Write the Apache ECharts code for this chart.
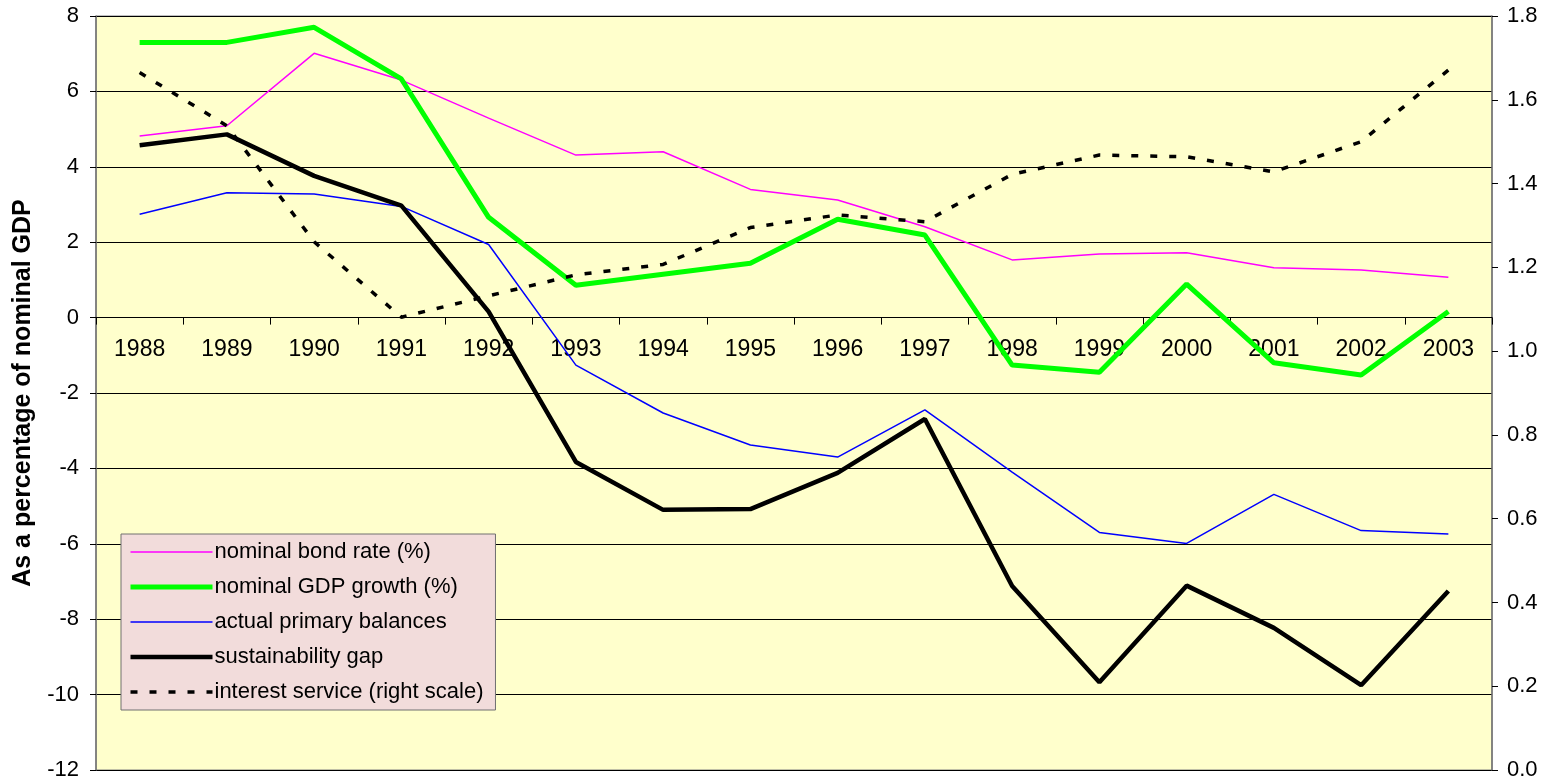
<!DOCTYPE html>
<html>
<head>
<meta charset="utf-8">
<script src="https://cdn.jsdelivr.net/npm/echarts@6/dist/echarts.min.js"></script>
<style>
  html, body { margin: 0; padding: 0; background: #fff; }
  #chart { width: 1549px; height: 784px; }
</style>
</head>
<body>
<div id="chart"></div>
<script>
const years = ['1988', '1989', '1990', '1991', '1992', '1993', '1994', '1995',
  '1996', '1997', '1998', '1999', '2000', '2001', '2002', '2003']

// left scale, % of nominal GDP
const bondRate = [4.82, 5.09, 7.01, 6.30, 5.29, 4.31, 4.40, 3.40, 3.12, 2.41, 1.53, 1.69, 1.72, 1.32, 1.26, 1.07]
const gdpGrowth = [7.30, 7.30, 7.70, 6.33, 2.66, 0.86, 1.15, 1.44, 2.61, 2.19, -1.26, -1.45, 0.89, -1.20, -1.52, 0.16]
const primaryBalance = [2.74, 3.31, 3.28, 2.95, 1.94, -1.26, -2.53, -3.38, -3.70, -2.45, -4.10, -5.70, -5.99, -4.69, -5.65, -5.74]
const sustainabilityGap = [4.57, 4.86, 3.76, 2.97, 0.16, -3.83, -5.10, -5.08, -4.12, -2.69, -7.12, -9.67, -7.11, -8.23, -9.75, -7.25]

// right scale
const interestService = [1.665, 1.538, 1.261, 1.081, 1.132, 1.182, 1.207, 1.295, 1.325, 1.309, 1.422, 1.468, 1.464, 1.428, 1.500, 1.671]

const font = '"Liberation Sans", Arial, sans-serif'

const chart = echarts.init(document.getElementById('chart'))

chart.setOption({
  animation: false,
  textStyle: { fontFamily: font },
  grid: {
    left: 96,
    right: 57,
    top: 16,
    bottom: 14,
    show: true,
    backgroundColor: '#FFFFCC',
    borderColor: '#808080',
    borderWidth: 1,
  },
  legend: {
    orient: 'vertical',
    left: 121,
    top: 534,
    backgroundColor: '#F2DCDB',
    borderColor: '#707070',
    borderWidth: 1,
    padding: [7, 12, 7, 7],
    itemWidth: 82,
    itemHeight: 22,
    itemGap: 13,
    itemStyle: { opacity: 0 },
    lineStyle: { width: 'inherit', type: 'inherit' },
    textStyle: { fontSize: 22, color: '#000', fontFamily: font, padding: [0, 0, 0, -3] },
    data: ['nominal bond rate (%)', 'nominal GDP growth (%)', 'actual primary balances',
      'sustainability gap', 'interest service (right scale)'],
  },
  xAxis: {
    type: 'category',
    data: years,
    boundaryGap: true,
    // move the category axis up onto the zero line
    offset: -452.4,
    axisLine: { onZero: false, lineStyle: { color: '#000', width: 1 } },
    axisTick: { show: true, inside: false, length: 7, lineStyle: { color: '#000' } },
    axisLabel: { fontSize: 23, color: '#000', margin: 21, fontFamily: font },
    splitLine: { show: false },
  },
  yAxis: [
    {
      type: 'value',
      min: -12,
      max: 8,
      interval: 2,
      name: 'As a percentage of nominal GDP',
      nameLocation: 'middle',
      nameGap: 60,
      nameTextStyle: { fontSize: 25, fontWeight: 'bold', color: '#000', fontFamily: font },
      axisLine: { show: true, lineStyle: { color: '#707070', width: 1.5 } },
      axisTick: { show: true, length: 6, lineStyle: { color: '#000' } },
      axisLabel: { fontSize: 22, color: '#000', margin: 17, fontFamily: font },
      splitLine: { show: true, lineStyle: { color: '#000', width: 1 } },
    },
    {
      type: 'value',
      min: 0,
      max: 1.8,
      interval: 0.2,
      position: 'right',
      axisLine: { show: true, lineStyle: { color: '#707070', width: 1.5 } },
      axisTick: { show: true, length: 6, lineStyle: { color: '#000' } },
      axisLabel: {
        fontSize: 22,
        color: '#000',
        margin: 15,
        fontFamily: font,
        formatter: (v) => v.toFixed(1),
      },
      splitLine: { show: false },
    },
  ],
  series: [
    {
      name: 'nominal bond rate (%)',
      type: 'line',
      data: bondRate,
      symbol: 'none',
      lineStyle: { color: '#FF00FF', width: 1.5 },
      itemStyle: { color: '#FF00FF' },
    },
    {
      name: 'nominal GDP growth (%)',
      type: 'line',
      data: gdpGrowth,
      symbol: 'none',
      lineStyle: { color: '#00FF00', width: 5 },
      itemStyle: { color: '#00FF00' },
    },
    {
      name: 'actual primary balances',
      type: 'line',
      data: primaryBalance,
      symbol: 'none',
      lineStyle: { color: '#0000FF', width: 1.5 },
      itemStyle: { color: '#0000FF' },
    },
    {
      name: 'sustainability gap',
      type: 'line',
      data: sustainabilityGap,
      symbol: 'none',
      lineStyle: { color: '#000', width: 4.5 },
      itemStyle: { color: '#000' },
    },
    {
      name: 'interest service (right scale)',
      type: 'line',
      yAxisIndex: 1,
      data: interestService,
      symbol: 'none',
      lineStyle: { color: '#000', width: 3.5, type: [7, 12] },
      itemStyle: { color: '#000' },
    },
  ],
})
</script>
</body>
</html>
